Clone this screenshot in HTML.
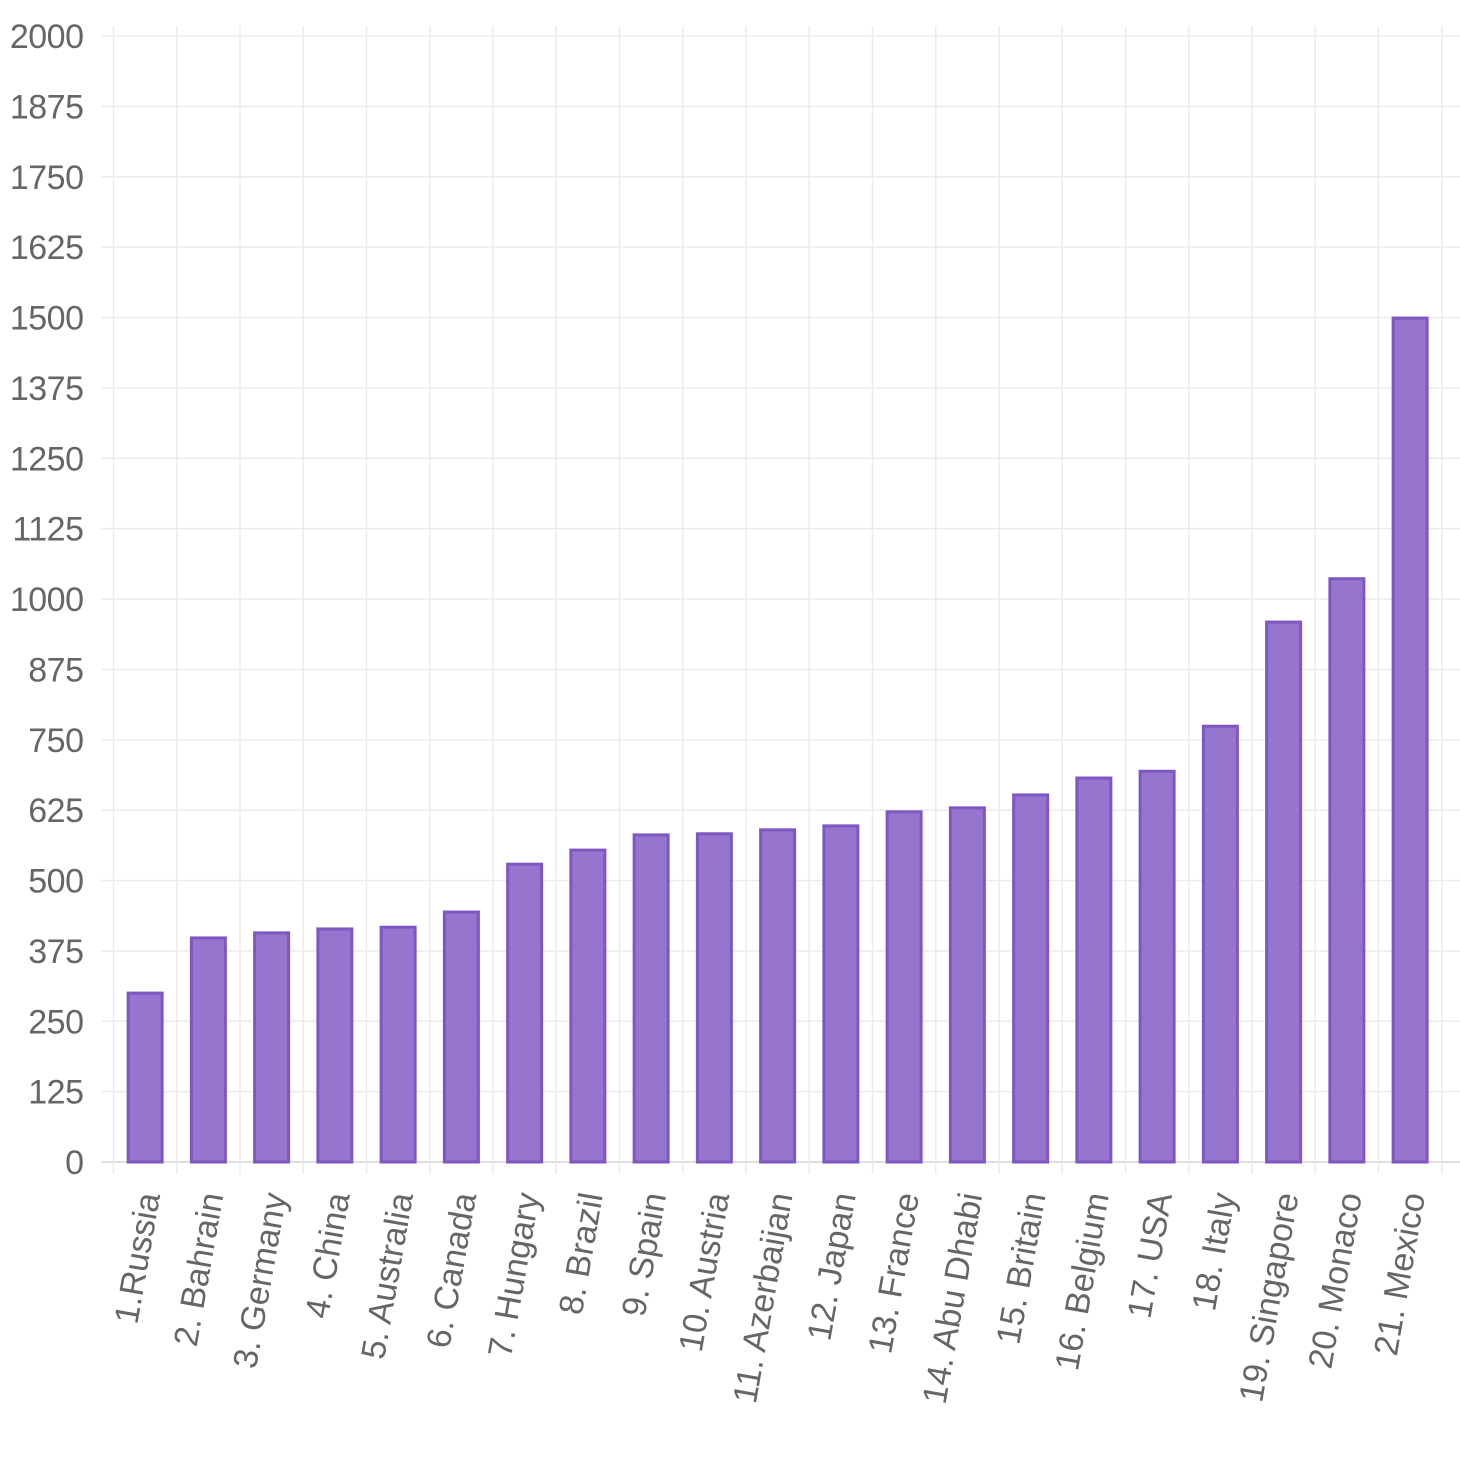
<!DOCTYPE html>
<html><head><meta charset="utf-8"><style>
html,body{margin:0;padding:0;background:#fff;width:1460px;height:1460px;overflow:hidden}
svg{display:block;font-family:"Liberation Sans",sans-serif}
</style></head><body>
<svg id="chart" width="1460" height="1460" viewBox="0 0 1460 1460"></svg>
<script>
const categories=["1.Russia","2. Bahrain","3. Germany","4. China","5. Australia","6. Canada","7. Hungary","8. Brazil","9. Spain","10. Austria","11. Azerbaijan","12. Japan","13. France","14. Abu Dhabi","15. Britain","16. Belgium","17. USA","18. Italy","19. Singapore","20. Monaco","21. Mexico"];
const values=[300,398,407,414,417,444,529,554,581,583,590,597,622,629,652,682,694,774,959,1036,1499];
const yTicks=[0,125,250,375,500,625,750,875,1000,1125,1250,1375,1500,1625,1750,1875,2000];

const NS="http://www.w3.org/2000/svg";
const svg=document.getElementById('chart');
const L=113.5,T=36,B=1162,yMax=2000,GR=1460;
const step=63.25;
const y=v=>B-(v/yMax)*(B-T);
const xc=i=>L+step*(i+0.5);
function mk(tag,a){const e=document.createElementNS(NS,tag);for(const k in a)e.setAttribute(k,a[k]);svg.appendChild(e);return e;}

yTicks.forEach(t=>{
  const g=mk('line',{x1:L-12,x2:GR,y1:y(t),y2:y(t),stroke:t===0?'#d6d6d6':'#ebebeb','stroke-width':1.5});
  
  
  const tx=mk('text',{x:L-30,y:y(t)+12,'text-anchor':'end','font-size':34,fill:'#666','letter-spacing':'-0.5'});
  tx.textContent=t;
  
  
});
for(let i=0;i<=categories.length;i++){
  const x=L+step*i;
  const g=mk('line',{x1:x,x2:x,y1:T-10,y2:B+12,stroke:'#ebebeb','stroke-width':1.5});
  
  
}
const bw=34;
categories.forEach((c,i)=>{
  const r=mk('rect',{x:xc(i)-bw/2,y:y(values[i]),width:bw,height:B-y(values[i]),fill:'#9575cd',stroke:'#7e57c2','stroke-width':3});
  
  
  const t=mk('text',{transform:`translate(${xc(i)+15},1195) rotate(-80)`,'text-anchor':'end','font-size':34,fill:'#666'});
  t.textContent=c;
  
  
});
</script>
</body></html>
